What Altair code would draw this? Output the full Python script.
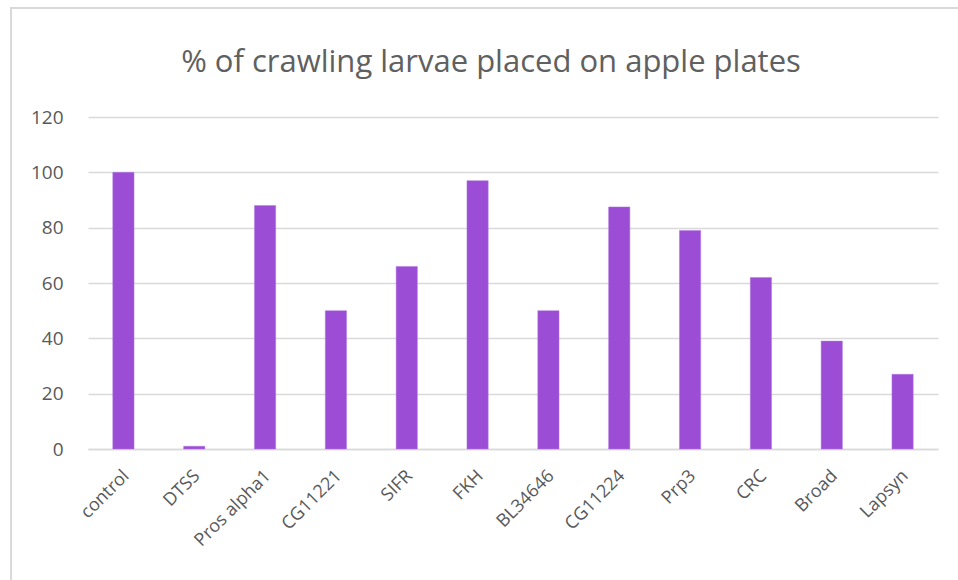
import altair as alt
import pandas as pd

# Genotypes on the x axis and the share of larvae crawling onto apple plates
genotypes = ["control", "DTSS", "Pros alpha1", "CG11221", "SIFR", "FKH",
             "BL34646", "CG11224", "Prp3", "CRC", "Broad", "Lapsyn"]
percent_crawling = [100, 1, 88, 50, 66, 97, 50, 87.5, 79, 62, 39, 27]
y_ticks = [0, 20, 40, 60, 80, 100, 120]

df = pd.DataFrame({"genotype": genotypes, "percent": percent_crawling})

FONT = "Open Sans"
TEXT_GREY = "#595959"
GRID_GREY = "#d9d9d9"
BAR_PURPLE = "#9b4dd5"

# Light frame around the whole chart area
frame = alt.Chart(df).mark_rect(
    fillOpacity=0, stroke=GRID_GREY, strokeWidth=1.5, clip=False
).encode(
    x=alt.value(-77), x2=alt.value(960),
    y=alt.value(-109), y2=alt.value(600),
)

bars = alt.Chart(df).mark_bar(color=BAR_PURPLE, stroke="#b07ae0", strokeWidth=0.5).encode(
    x=alt.X(
        "genotype:N", sort=genotypes, title=None,
        scale=alt.Scale(paddingInner=0.7, paddingOuter=0.35),
        axis=alt.Axis(
            labelAngle=-45, labelAlign="right", labelBaseline="middle",
            labelPadding=24, labelOffset=3, ticks=False, domain=True,
            domainColor=GRID_GREY, domainWidth=1.5, labelFont=FONT,
            labelFontSize=18, labelColor=TEXT_GREY, grid=False,
        ),
    ),
    y=alt.Y(
        "percent:Q", title=None,
        scale=alt.Scale(domain=[0, 120], nice=False),
        axis=alt.Axis(
            values=y_ticks, ticks=False, domain=False, grid=True,
            gridColor=GRID_GREY, gridWidth=1.5, labelPadding=25,
            labelFont=FONT, labelFontSize=19, labelColor=TEXT_GREY,
        ),
    ),
)

# The frame reaches above the plot, so the title offset is measured from its top edge
chart = alt.layer(frame, bars).properties(
    width=850,
    height=332,
    title=alt.TitleParams(
        "% of crawling larvae placed on apple plates",
        font=FONT, fontSize=31, fontWeight="normal", color="#606060",
        anchor="middle", frame="group", baseline="alphabetic",
        dx=-22, offset=-96,
    ),
    autosize=alt.AutoSizeParams(type="none"),
    padding={"left": 88, "top": 117, "right": 20, "bottom": 131},
).configure_view(stroke=None)

chart.save("out.html", embed_options={"renderer": "svg", "actions": False})
